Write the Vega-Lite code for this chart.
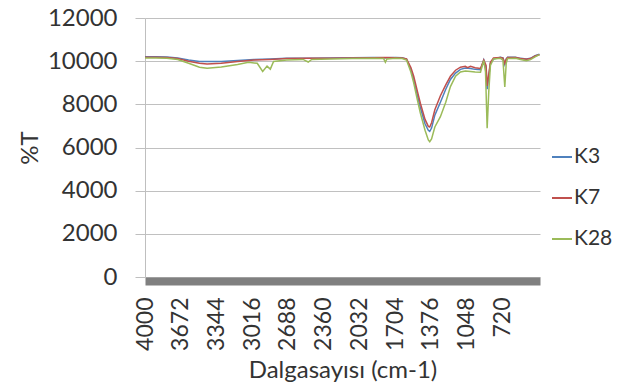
{
  "$schema": "https://vega.github.io/schema/vega-lite/v6.json",
  "autosize": {"type": "none"},
  "padding": {"left": 145, "top": 18, "right": 98, "bottom": 115},
  "width": 395,
  "height": 259,
  "background": "white",
  "config": {
    "view": {"stroke": null},
    "font": "Lato",
    "axis": {"labelFont": "Lato", "titleFont": "Lato", "labelColor": "#333333", "titleColor": "#333333", "titleFontWeight": "normal"}
  },
  "data": {"values": [
    {"wn": 4000, "T": 10200, "s": "K3"}, {"wn": 3900, "T": 10200, "s": "K3"}, {"wn": 3800, "T": 10190, "s": "K3"}, {"wn": 3700, "T": 10150, "s": "K3"}, {"wn": 3600, "T": 10050, "s": "K3"}, {"wn": 3500, "T": 9990, "s": "K3"}, {"wn": 3430, "T": 9980, "s": "K3"}, {"wn": 3300, "T": 9990, "s": "K3"}, {"wn": 3150, "T": 10030, "s": "K3"}, {"wn": 3000, "T": 10080, "s": "K3"}, {"wn": 2850, "T": 10100, "s": "K3"}, {"wn": 2700, "T": 10130, "s": "K3"}, {"wn": 2500, "T": 10140, "s": "K3"}, {"wn": 2300, "T": 10150, "s": "K3"}, {"wn": 2100, "T": 10160, "s": "K3"}, {"wn": 1900, "T": 10170, "s": "K3"}, {"wn": 1800, "T": 10160, "s": "K3"}, {"wn": 1700, "T": 10170, "s": "K3"}, {"wn": 1640, "T": 10160, "s": "K3"}, {"wn": 1600, "T": 10100, "s": "K3"}, {"wn": 1560, "T": 9600, "s": "K3"}, {"wn": 1534, "T": 9150, "s": "K3"}, {"wn": 1500, "T": 8400, "s": "K3"}, {"wn": 1473, "T": 7850, "s": "K3"}, {"wn": 1430, "T": 7100, "s": "K3"}, {"wn": 1400, "T": 6800, "s": "K3"}, {"wn": 1387, "T": 6750, "s": "K3"}, {"wn": 1370, "T": 6900, "s": "K3"}, {"wn": 1340, "T": 7500, "s": "K3"}, {"wn": 1289, "T": 8100, "s": "K3"}, {"wn": 1240, "T": 8700, "s": "K3"}, {"wn": 1197, "T": 9150, "s": "K3"}, {"wn": 1150, "T": 9450, "s": "K3"}, {"wn": 1105, "T": 9620, "s": "K3"}, {"wn": 1060, "T": 9680, "s": "K3"}, {"wn": 1013, "T": 9660, "s": "K3"}, {"wn": 970, "T": 9620, "s": "K3"}, {"wn": 921, "T": 9600, "s": "K3"}, {"wn": 891, "T": 10050, "s": "K3"}, {"wn": 870, "T": 9700, "s": "K3"}, {"wn": 860, "T": 8700, "s": "K3"}, {"wn": 845, "T": 9300, "s": "K3"}, {"wn": 830, "T": 9900, "s": "K3"}, {"wn": 802, "T": 10100, "s": "K3"}, {"wn": 738, "T": 10180, "s": "K3"}, {"wn": 715, "T": 10150, "s": "K3"}, {"wn": 698, "T": 9850, "s": "K3"}, {"wn": 685, "T": 10100, "s": "K3"}, {"wn": 673, "T": 10180, "s": "K3"}, {"wn": 600, "T": 10180, "s": "K3"}, {"wn": 554, "T": 10130, "s": "K3"}, {"wn": 500, "T": 10100, "s": "K3"}, {"wn": 462, "T": 10130, "s": "K3"}, {"wn": 420, "T": 10250, "s": "K3"}, {"wn": 380, "T": 10320, "s": "K3"},

    {"wn": 4000, "T": 10180, "s": "K7"}, {"wn": 3900, "T": 10180, "s": "K7"}, {"wn": 3800, "T": 10170, "s": "K7"}, {"wn": 3700, "T": 10120, "s": "K7"}, {"wn": 3600, "T": 10000, "s": "K7"}, {"wn": 3500, "T": 9900, "s": "K7"}, {"wn": 3430, "T": 9870, "s": "K7"}, {"wn": 3300, "T": 9900, "s": "K7"}, {"wn": 3150, "T": 9980, "s": "K7"}, {"wn": 3000, "T": 10050, "s": "K7"}, {"wn": 2850, "T": 10080, "s": "K7"}, {"wn": 2700, "T": 10120, "s": "K7"}, {"wn": 2500, "T": 10130, "s": "K7"}, {"wn": 2300, "T": 10140, "s": "K7"}, {"wn": 2100, "T": 10150, "s": "K7"}, {"wn": 1900, "T": 10160, "s": "K7"}, {"wn": 1800, "T": 10170, "s": "K7"}, {"wn": 1700, "T": 10160, "s": "K7"}, {"wn": 1640, "T": 10150, "s": "K7"}, {"wn": 1600, "T": 10100, "s": "K7"}, {"wn": 1560, "T": 9700, "s": "K7"}, {"wn": 1534, "T": 9300, "s": "K7"}, {"wn": 1500, "T": 8600, "s": "K7"}, {"wn": 1473, "T": 8050, "s": "K7"}, {"wn": 1430, "T": 7300, "s": "K7"}, {"wn": 1400, "T": 6980, "s": "K7"}, {"wn": 1387, "T": 6950, "s": "K7"}, {"wn": 1370, "T": 7150, "s": "K7"}, {"wn": 1340, "T": 7750, "s": "K7"}, {"wn": 1289, "T": 8400, "s": "K7"}, {"wn": 1240, "T": 8900, "s": "K7"}, {"wn": 1197, "T": 9300, "s": "K7"}, {"wn": 1150, "T": 9580, "s": "K7"}, {"wn": 1105, "T": 9720, "s": "K7"}, {"wn": 1060, "T": 9760, "s": "K7"}, {"wn": 1040, "T": 9700, "s": "K7"}, {"wn": 1013, "T": 9760, "s": "K7"}, {"wn": 970, "T": 9700, "s": "K7"}, {"wn": 921, "T": 9660, "s": "K7"}, {"wn": 891, "T": 10050, "s": "K7"}, {"wn": 870, "T": 9800, "s": "K7"}, {"wn": 860, "T": 8850, "s": "K7"}, {"wn": 845, "T": 9400, "s": "K7"}, {"wn": 830, "T": 9950, "s": "K7"}, {"wn": 802, "T": 10150, "s": "K7"}, {"wn": 738, "T": 10170, "s": "K7"}, {"wn": 715, "T": 10140, "s": "K7"}, {"wn": 698, "T": 9900, "s": "K7"}, {"wn": 685, "T": 10100, "s": "K7"}, {"wn": 673, "T": 10170, "s": "K7"}, {"wn": 600, "T": 10170, "s": "K7"}, {"wn": 554, "T": 10120, "s": "K7"}, {"wn": 500, "T": 10090, "s": "K7"}, {"wn": 462, "T": 10120, "s": "K7"}, {"wn": 420, "T": 10240, "s": "K7"}, {"wn": 380, "T": 10300, "s": "K7"},

    {"wn": 4000, "T": 10150, "s": "K28"}, {"wn": 3900, "T": 10150, "s": "K28"}, {"wn": 3800, "T": 10140, "s": "K28"}, {"wn": 3700, "T": 10080, "s": "K28"}, {"wn": 3600, "T": 9900, "s": "K28"}, {"wn": 3500, "T": 9720, "s": "K28"}, {"wn": 3430, "T": 9670, "s": "K28"}, {"wn": 3300, "T": 9730, "s": "K28"}, {"wn": 3150, "T": 9850, "s": "K28"}, {"wn": 3050, "T": 9950, "s": "K28"}, {"wn": 2970, "T": 9900, "s": "K28"}, {"wn": 2920, "T": 9520, "s": "K28"}, {"wn": 2880, "T": 9770, "s": "K28"}, {"wn": 2850, "T": 9630, "s": "K28"}, {"wn": 2820, "T": 9990, "s": "K28"}, {"wn": 2700, "T": 10050, "s": "K28"}, {"wn": 2550, "T": 10080, "s": "K28"}, {"wn": 2502, "T": 9960, "s": "K28"}, {"wn": 2470, "T": 10080, "s": "K28"}, {"wn": 2300, "T": 10100, "s": "K28"}, {"wn": 2100, "T": 10120, "s": "K28"}, {"wn": 1900, "T": 10130, "s": "K28"}, {"wn": 1810, "T": 10120, "s": "K28"}, {"wn": 1794, "T": 9950, "s": "K28"}, {"wn": 1780, "T": 10100, "s": "K28"}, {"wn": 1700, "T": 10130, "s": "K28"}, {"wn": 1640, "T": 10120, "s": "K28"}, {"wn": 1600, "T": 10050, "s": "K28"}, {"wn": 1560, "T": 9500, "s": "K28"}, {"wn": 1534, "T": 9000, "s": "K28"}, {"wn": 1500, "T": 8200, "s": "K28"}, {"wn": 1473, "T": 7600, "s": "K28"}, {"wn": 1430, "T": 6800, "s": "K28"}, {"wn": 1400, "T": 6350, "s": "K28"}, {"wn": 1387, "T": 6270, "s": "K28"}, {"wn": 1370, "T": 6400, "s": "K28"}, {"wn": 1340, "T": 6950, "s": "K28"}, {"wn": 1289, "T": 7430, "s": "K28"}, {"wn": 1240, "T": 8100, "s": "K28"}, {"wn": 1197, "T": 8820, "s": "K28"}, {"wn": 1150, "T": 9300, "s": "K28"}, {"wn": 1105, "T": 9500, "s": "K28"}, {"wn": 1060, "T": 9540, "s": "K28"}, {"wn": 1013, "T": 9520, "s": "K28"}, {"wn": 970, "T": 9500, "s": "K28"}, {"wn": 921, "T": 9490, "s": "K28"}, {"wn": 891, "T": 10030, "s": "K28"}, {"wn": 875, "T": 9500, "s": "K28"}, {"wn": 860, "T": 6890, "s": "K28"}, {"wn": 845, "T": 8600, "s": "K28"}, {"wn": 830, "T": 9800, "s": "K28"}, {"wn": 802, "T": 10100, "s": "K28"}, {"wn": 738, "T": 10130, "s": "K28"}, {"wn": 715, "T": 10050, "s": "K28"}, {"wn": 698, "T": 8800, "s": "K28"}, {"wn": 685, "T": 9900, "s": "K28"}, {"wn": 673, "T": 10120, "s": "K28"}, {"wn": 600, "T": 10130, "s": "K28"}, {"wn": 554, "T": 10080, "s": "K28"}, {"wn": 500, "T": 10020, "s": "K28"}, {"wn": 462, "T": 10070, "s": "K28"}, {"wn": 420, "T": 10200, "s": "K28"}, {"wn": 380, "T": 10300, "s": "K28"}
  ]},
  "mark": {"type": "line", "strokeWidth": 1.5},
  "encoding": {
    "x": {
      "field": "wn", "type": "quantitative",
      "scale": {"domain": [375, 4000], "reverse": true, "nice": false, "zero": false},
      "axis": {
        "title": "Dalgasayısı (cm-1)", "titleFontSize": 24, "titlePadding": 8,
        "values": [4000, 3672, 3344, 3016, 2688, 2360, 2032, 1704, 1376, 1048, 720],
        "labelAngle": -90, "labelAlign": "right", "labelBaseline": "middle",
        "labelFontSize": 23, "labelPadding": 16, "labelFlush": false, "labelOverlap": false,
        "ticks": false, "grid": false,
        "domainColor": "#808080", "domainWidth": 8, "offset": 4, "format": "d"
      }
    },
    "y": {
      "field": "T", "type": "quantitative",
      "scale": {"domain": [0, 12000], "nice": false},
      "axis": {
        "title": "%T", "titleFontSize": 24, "titlePadding": 5,
        "values": [0, 2000, 4000, 6000, 8000, 10000, 12000],
        "labelFontSize": 24, "labelPadding": 18, "format": "d",
        "tickSize": 10, "tickColor": "#bfbfbf", "domainColor": "#bfbfbf",
        "gridColor": "#c0c0c0", "gridWidth": 1
      }
    },
    "color": {
      "field": "s", "type": "nominal",
      "scale": {"domain": ["K3", "K7", "K28"], "range": ["#4F81BD", "#C0504D", "#9BBB59"]},
      "legend": {
        "title": null, "orient": "none", "legendX": 406, "legendY": 128,
        "symbolType": "stroke", "symbolSize": 400, "symbolStrokeWidth": 2,
        "labelFontSize": 21, "labelFont": "Lato", "labelColor": "#333333", "labelOffset": 1,
        "rowPadding": 20
      }
    }
  }
}
